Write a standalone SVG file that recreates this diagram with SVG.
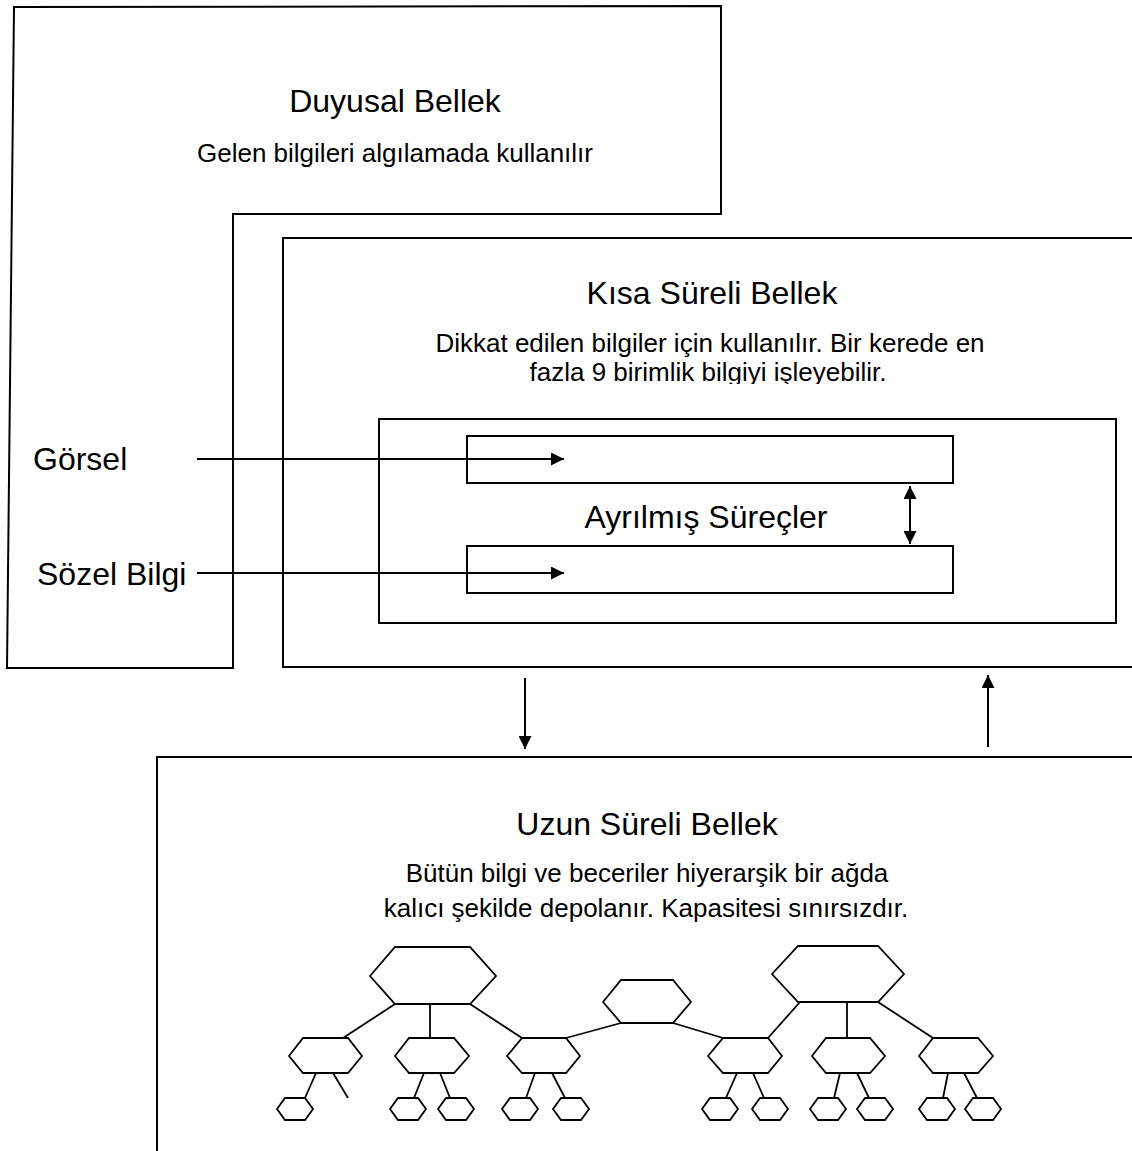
<svg xmlns="http://www.w3.org/2000/svg" width="1132" height="1151" viewBox="0 0 1132 1151">
  <style>
    .box { fill: none; stroke: #000; stroke-width: 2; }
    .hex { fill: #fff; stroke: #000; stroke-width: 1.8; stroke-linejoin: miter; }
    .edge { fill: none; stroke: #000; stroke-width: 1.8; }
    .arrow { fill: none; stroke: #000; stroke-width: 2; }
    .title { font-family: "Liberation Sans", Arial, sans-serif; font-size: 32px; fill: #000; text-anchor: middle; }
    .body { font-family: "Liberation Sans", Arial, sans-serif; font-size: 26px; fill: #000; text-anchor: middle; }
    .label { font-family: "Liberation Sans", Arial, sans-serif; font-size: 32px; fill: #000; }
  </style>
  <defs>
    <marker id="head" viewBox="0 0 10 10" refX="10" refY="5" markerWidth="15" markerHeight="13" markerUnits="userSpaceOnUse" orient="auto-start-reverse">
      <path d="M0,0 L10,5 L0,10 z" fill="#000"/>
    </marker>
    <clipPath id="stmClip">
      <rect x="284" y="239" width="848" height="145"/>
    </clipPath>
  </defs>
  <rect width="1132" height="1151" fill="#fff"/>

  <!-- Sensory memory -->
  <g id="duyusal-bellek">
    <path class="box" d="M14,7 L721,6 L721,214 L233,214 L233,668 L7,668 Z"/>
    <text class="title" x="395" y="112">Duyusal Bellek</text>
    <text class="body" x="395" y="162">Gelen bilgileri algılamada kullanılır</text>
  </g>

  <!-- Short-term memory -->
  <g id="kisa-sureli-bellek">
    <path class="box" d="M1132,238 L283,238 L283,667 L1132,667"/>
    <text class="title" x="712" y="304">Kısa Süreli Bellek</text>
    <text class="body" x="710" y="352">Dikkat edilen bilgiler için kullanılır. Bir kerede en</text>
    <text class="body" x="708" y="381" clip-path="url(#stmClip)">fazla 9 birimlik bilgiyi işleyebilir.</text>
  </g>

  <g id="ayrilmis-surecler">
    <rect class="box" x="379" y="419" width="737" height="204"/>
    <text class="title" x="706" y="528">Ayrılmış Süreçler</text>
  </g>
  <g id="surec-gorsel">
    <rect class="box" x="467" y="436" width="486" height="47"/>
  </g>
  <g id="surec-sozel">
    <rect class="box" x="467" y="546" width="486" height="47"/>
  </g>

  <g id="girdi-gorsel">
    <text class="label" x="33" y="470">Görsel</text>
  </g>
  <g id="girdi-sozel">
    <text class="label" x="37" y="585">Sözel Bilgi</text>
  </g>

  <!-- Long-term memory -->
  <g id="uzun-sureli-bellek">
    <path class="box" d="M1132,757 L157,757 L157,1151"/>
    <text class="title" x="647" y="835">Uzun Süreli Bellek</text>
    <text class="body" x="647" y="882">Bütün bilgi ve beceriler hiyerarşik bir ağda</text>
    <text class="body" x="646" y="917">kalıcı şekilde depolanır. Kapasitesi sınırsızdır.</text>
  </g>

  <!-- Connectors -->
  <g id="connectors">
    <line class="arrow" x1="197" y1="459" x2="564" y2="459" marker-end="url(#head)"/>
    <line class="arrow" x1="197" y1="573" x2="564" y2="573" marker-end="url(#head)"/>
    <line class="arrow" x1="910" y1="486" x2="910" y2="544" marker-start="url(#head)" marker-end="url(#head)"/>
    <line class="arrow" x1="525" y1="678" x2="525" y2="749" marker-end="url(#head)"/>
    <line class="arrow" x1="988" y1="747" x2="988" y2="675" marker-end="url(#head)"/>
  </g>

  <!-- Knowledge network: links -->
  <g id="network-links">
    <line class="edge" x1="395" y1="1004" x2="343" y2="1038"/>
    <line class="edge" x1="430" y1="1004" x2="430" y2="1038"/>
    <line class="edge" x1="470" y1="1004" x2="522" y2="1038"/>
    <line class="edge" x1="621" y1="1023" x2="566" y2="1038"/>
    <line class="edge" x1="673" y1="1023" x2="723" y2="1038"/>
    <line class="edge" x1="768" y1="1038" x2="800" y2="1002"/>
    <line class="edge" x1="847" y1="1002" x2="847" y2="1038"/>
    <line class="edge" x1="878" y1="1002" x2="933" y2="1038"/>

    <line class="edge" x1="316" y1="1073" x2="305" y2="1098"/>
    <line class="edge" x1="333" y1="1073" x2="348" y2="1098"/>
    <line class="edge" x1="424" y1="1073" x2="414" y2="1098"/>
    <line class="edge" x1="440" y1="1073" x2="450" y2="1098"/>
    <line class="edge" x1="535" y1="1073" x2="526" y2="1098"/>
    <line class="edge" x1="552" y1="1073" x2="565" y2="1098"/>
    <line class="edge" x1="737" y1="1073" x2="726" y2="1098"/>
    <line class="edge" x1="753" y1="1073" x2="764" y2="1098"/>
    <line class="edge" x1="840" y1="1073" x2="834" y2="1098"/>
    <line class="edge" x1="857" y1="1073" x2="869" y2="1098"/>
    <line class="edge" x1="948" y1="1073" x2="943" y2="1098"/>
    <line class="edge" x1="964" y1="1073" x2="977" y2="1098"/>
  </g>

  <!-- Knowledge network: nodes -->
  <g id="network-nodes">
    <polygon id="hex-top-1" class="hex" points="370,976 395,947 470,947 496,976 470,1004 395,1004"/>
    <polygon id="hex-top-2" class="hex" points="603,1002 621,980 673,980 691,1002 673,1023 621,1023"/>
    <polygon id="hex-top-3" class="hex" points="772,974 798,946 878,946 904,974 878,1002 798,1002"/>

    <polygon id="hex-mid-1" class="hex" points="289,1056 303,1038 348,1038 362,1056 348,1073 303,1073"/>
    <polygon id="hex-mid-2" class="hex" points="395,1056 409,1038 454,1038 469,1056 454,1073 409,1073"/>
    <polygon id="hex-mid-3" class="hex" points="507,1056 522,1038 566,1038 580,1056 566,1073 522,1073"/>
    <polygon id="hex-mid-4" class="hex" points="708,1056 723,1038 768,1038 782,1056 768,1073 723,1073"/>
    <polygon id="hex-mid-5" class="hex" points="812,1056 826,1038 870,1038 885,1056 870,1073 826,1073"/>
    <polygon id="hex-mid-6" class="hex" points="919,1056 933,1038 978,1038 993,1056 978,1073 933,1073"/>

    <polygon id="hex-leaf-1" class="hex" points="277,1109 285,1098 305,1098 313,1109 305,1120 285,1120"/>
    <polygon id="hex-leaf-2" class="hex" points="390,1109 398,1098 418,1098 426,1109 418,1120 398,1120"/>
    <polygon id="hex-leaf-3" class="hex" points="438,1109 446,1098 466,1098 474,1109 466,1120 446,1120"/>
    <polygon id="hex-leaf-4" class="hex" points="502,1109 510,1098 530,1098 538,1109 530,1120 510,1120"/>
    <polygon id="hex-leaf-5" class="hex" points="553,1109 561,1098 581,1098 589,1109 581,1120 561,1120"/>
    <polygon id="hex-leaf-6" class="hex" points="702,1109 710,1098 730,1098 738,1109 730,1120 710,1120"/>
    <polygon id="hex-leaf-7" class="hex" points="752,1109 760,1098 780,1098 788,1109 780,1120 760,1120"/>
    <polygon id="hex-leaf-8" class="hex" points="810,1109 818,1098 838,1098 846,1109 838,1120 818,1120"/>
    <polygon id="hex-leaf-9" class="hex" points="857,1109 865,1098 885,1098 893,1109 885,1120 865,1120"/>
    <polygon id="hex-leaf-10" class="hex" points="919,1109 927,1098 947,1098 955,1109 947,1120 927,1120"/>
    <polygon id="hex-leaf-11" class="hex" points="965,1109 973,1098 993,1098 1001,1109 993,1120 973,1120"/>
  </g>
</svg>
